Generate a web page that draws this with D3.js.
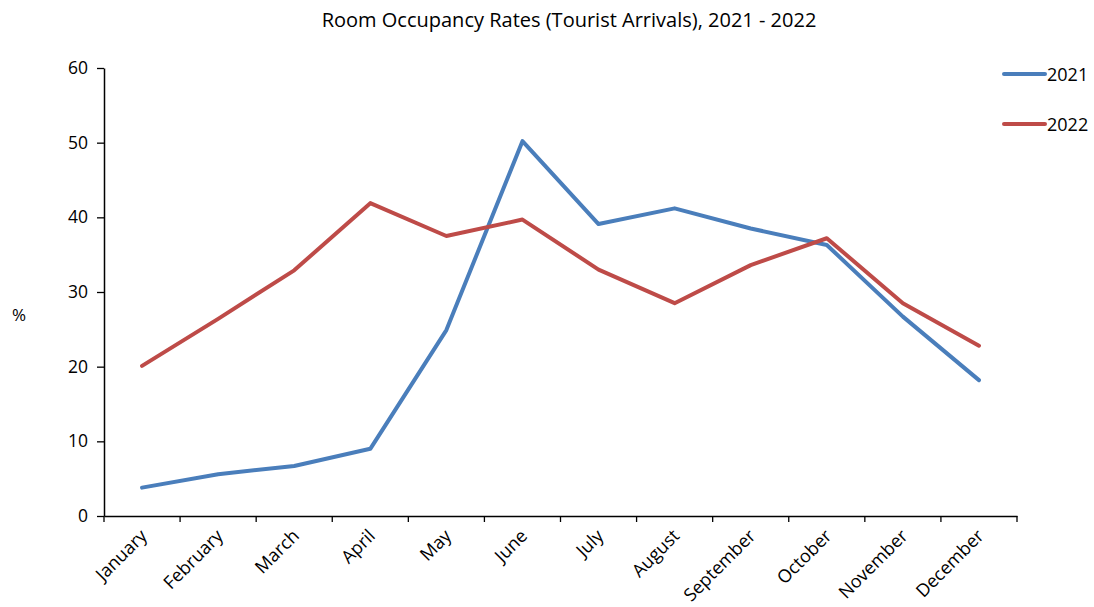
<!DOCTYPE html>
<html><head><meta charset="utf-8">
<script src="https://cdn.jsdelivr.net/npm/d3@7"></script>
<style>body{margin:0;background:#fff}svg{display:block}text{font-family:"Open Sans","Noto Sans",sans-serif;fill:#000}</style>
</head><body><svg id="c" width="1094" height="607"></svg>
<script>
const months = ["January","February","March","April","May","June","July","August","September","October","November","December"];
const series2021 = [3.8,5.6,6.7,9.0,24.9,50.2,39.1,41.2,38.5,36.3,26.7,18.2];
const series2022 = [20.1,26.4,32.9,41.9,37.5,39.7,33.0,28.5,33.6,37.2,28.5,22.8];
const seriesNames = ["2021","2022"];
const yTicks = [0,10,20,30,40,50,60];
const titleText = "Room Occupancy Rates (Tourist Arrivals), 2021 - 2022";
const yLabel = "%";

const colors = ["#4a7ebb","#be4b48"];
const svg = d3.select("#c");
const mLeft = 104, mRight = 1017, mTop = 68, mBottom = 516;
const x = d3.scaleBand().domain(months).range([mLeft,mRight]);
const y = d3.scaleLinear().domain([0,60]).range([mBottom,mTop]);

svg.append("text").attr("x",569).attr("y",27).attr("text-anchor","middle").attr("font-size",20).text(titleText);
svg.append("text").attr("x",19).attr("y",321).attr("text-anchor","middle").attr("font-size",17).text(yLabel);

const ya = svg.append("g").attr("transform",`translate(${mLeft},0)`)
  .call(d3.axisLeft(y).tickValues(yTicks).tickSize(7).tickPadding(9).tickSizeOuter(0));
ya.select(".domain").attr("stroke","#000").attr("stroke-width",1.5);
ya.selectAll(".tick line").attr("stroke","#000").attr("stroke-width",1.3);
ya.selectAll("text").attr("font-size",17.5).attr("font-family","Open Sans, sans-serif");

const xa = svg.append("g").attr("transform",`translate(0,${mBottom})`)
  .call(d3.axisBottom(x).tickSize(0).tickFormat(""));
xa.select(".domain").attr("stroke","#000").attr("stroke-width",1.5);
const bounds = months.map(m=>x(m)).concat([mRight]);
xa.selectAll(".bt").data(bounds).enter().append("line").attr("class","bt")
  .attr("x1",d=>d).attr("x2",d=>d).attr("y1",0).attr("y2",6).attr("stroke","#000").attr("stroke-width",1.3);
xa.selectAll(".lbl").data(months).enter().append("text").attr("class","lbl")
  .attr("transform",d=>`translate(${x(d)+x.bandwidth()/2+6},${21}) rotate(-45)`)
  .attr("text-anchor","end").attr("font-size",18).text(d=>d);

const line = d3.line().x((d,i)=>x(months[i])+x.bandwidth()/2).y(d=>y(d));
[series2021,series2022].forEach((s,k)=>{
  svg.append("path").datum(s).attr("d",line).attr("fill","none")
    .attr("stroke",colors[k]).attr("stroke-width",4).attr("stroke-linecap","round").attr("stroke-linejoin","round");
});

seriesNames.forEach((n,k)=>{
  const ly = 74 + k*50;
  svg.append("line").attr("x1",1004).attr("x2",1045).attr("y1",ly).attr("y2",ly)
    .attr("stroke",colors[k]).attr("stroke-width",4).attr("stroke-linecap","round");
  svg.append("text").attr("x",1047).attr("y",ly+6.5).attr("font-size",18).text(n);
});
</script></body></html>
